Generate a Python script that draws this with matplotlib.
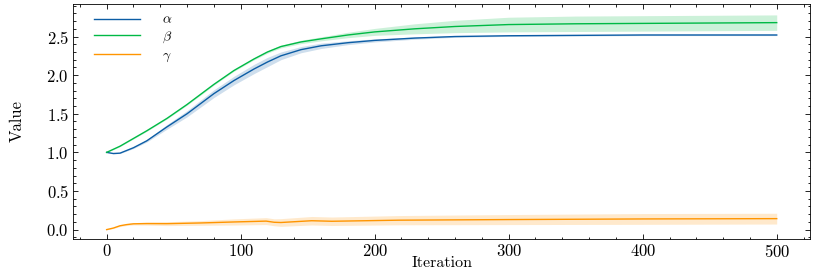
import matplotlib
matplotlib.use("Agg")
import matplotlib.pyplot as plt
from matplotlib.ticker import MultipleLocator

# iterations for alpha / beta
it = [0, 5, 10, 20, 30, 45, 60, 70, 80, 95, 110, 120, 130, 145, 160, 180,
      200, 230, 260, 300, 350, 400, 450, 500]
alpha = [1.00, 0.985, 0.99, 1.06, 1.15, 1.33, 1.50, 1.63, 1.76, 1.93, 2.08, 2.17,
         2.25, 2.33, 2.38, 2.42, 2.45, 2.48, 2.50, 2.51, 2.515, 2.52, 2.52, 2.52]
alpha_sd = [0.0, 0.003, 0.005, 0.01, 0.015, 0.03, 0.04, 0.045, 0.05, 0.055, 0.06, 0.06,
            0.05, 0.04, 0.035, 0.025, 0.02, 0.015, 0.01, 0.008, 0.008, 0.008, 0.008, 0.008]
beta = [1.00, 1.04, 1.08, 1.18, 1.28, 1.44, 1.62, 1.75, 1.88, 2.06, 2.21, 2.30,
        2.37, 2.43, 2.47, 2.52, 2.56, 2.60, 2.63, 2.655, 2.665, 2.67, 2.675, 2.68]
beta_sd = [0.003, 0.004, 0.005, 0.006, 0.007, 0.008, 0.009, 0.01, 0.01, 0.01, 0.012, 0.015,
           0.018, 0.022, 0.026, 0.035, 0.045, 0.065, 0.08, 0.095, 0.1, 0.1, 0.1, 0.1]

# iterations for gamma
it_g = [0, 5, 10, 15, 20, 30, 45, 70, 95, 119, 125, 130, 153, 168, 218, 300, 400, 500]
gamma = [0.0, 0.02, 0.05, 0.065, 0.075, 0.078, 0.077, 0.086, 0.099, 0.11, 0.095, 0.092,
         0.115, 0.108, 0.122, 0.13, 0.138, 0.142]
gamma_sd = [0.003, 0.006, 0.01, 0.012, 0.015, 0.02, 0.025, 0.03, 0.04, 0.045, 0.045, 0.05,
            0.055, 0.055, 0.06, 0.065, 0.07, 0.07]

plt.rcParams['font.family'] = 'serif'
plt.rcParams['font.serif'] = ['cmr10']
plt.rcParams['mathtext.fontset'] = 'cm'
plt.rcParams['axes.formatter.use_mathtext'] = True
plt.rcParams['axes.unicode_minus'] = False

fig, ax = plt.subplots(figsize=(8.31, 2.73), dpi=100)
fig.subplots_adjust(left=0.088, right=0.975, top=0.985, bottom=0.125)

colors = ['#0C5DA5', '#00B945', '#FF9500']
series = [(it, alpha, alpha_sd, r'$\alpha$'),
          (it, beta, beta_sd, r'$\beta$'),
          (it_g, gamma, gamma_sd, r'$\gamma$')]
for (x, m, s, lab), c in zip(series, colors):
    lo = [a - b for a, b in zip(m, s)]
    hi = [a + b for a, b in zip(m, s)]
    ax.plot(x, m, color=c, lw=1.0, label=lab)
    ax.fill_between(x, lo, hi, color=c, alpha=0.2, lw=0)

ax.set_xlim(-25, 525)
ax.set_ylim(-0.12, 2.92)
ax.xaxis.set_major_locator(MultipleLocator(100))
ax.xaxis.set_minor_locator(MultipleLocator(20))
ax.yaxis.set_major_locator(MultipleLocator(0.5))
ax.yaxis.set_minor_locator(MultipleLocator(0.1))
ax.tick_params(which='both', direction='in', top=True, right=True, labelsize=12, width=0.6)
ax.tick_params(which='major', length=3.5, pad=3)
ax.tick_params(which='minor', length=1.8)
for sp in ax.spines.values():
    sp.set_linewidth(0.6)

ax.set_xlabel('Iteration', fontsize=11.5, labelpad=-3)
ax.set_ylabel('Value', fontsize=12)
ax.yaxis.set_label_coords(-0.066, 0.5)
ax.legend(loc='upper left', bbox_to_anchor=(0.015, 1.0), frameon=False, fontsize=10,
          handlelength=3.3, labelspacing=0.25, borderaxespad=0.3, handletextpad=1.6)

fig.savefig('out.png', dpi=100)
